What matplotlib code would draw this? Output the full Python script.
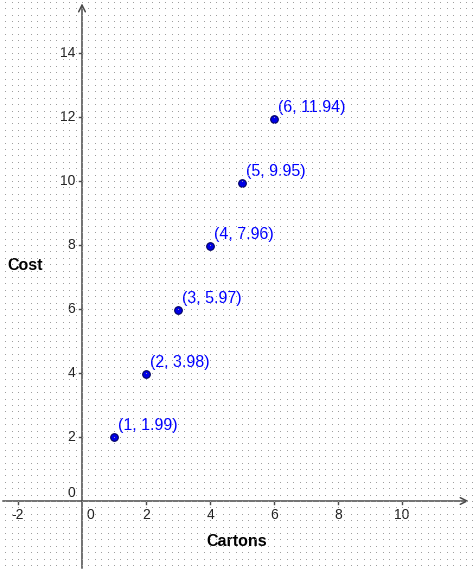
import numpy as np
import matplotlib
matplotlib.use("Agg")
import matplotlib.pyplot as plt

plt.rcParams['font.family'] = ['Liberation Sans', 'DejaVu Sans']

# data
cartons = [1, 2, 3, 4, 5, 6]
cost = [1.99, 3.98, 5.97, 7.96, 9.95, 11.94]
point_labels = ["(1, 1.99)", "(2, 3.98)", "(3, 5.97)", "(4, 7.96)", "(5, 9.95)", "(6, 11.94)"]
x_ticks = [-2, 0, 2, 4, 6, 8, 10]
y_ticks = [0, 2, 4, 6, 8, 10, 12, 14]

W, H = 473, 571
scale = 32.0  # pixels per unit
x0_px, y0_px = 82, 501
xmin, xmax = -x0_px / scale, (W - x0_px) / scale
ymin, ymax = -(H - y0_px) / scale, y0_px / scale

fig = plt.figure(figsize=(W / 100, H / 100), dpi=100)
ax = fig.add_axes([0, 0, 1, 1])
ax.set_xlim(xmin, xmax)
ax.set_ylim(ymin, ymax)
ax.axis("off")

# dotted background grid, one pixel per dot every 0.2 units
grid = np.zeros((H, W, 4))
step = 0.2 * scale
cols = np.round(x0_px + step * np.arange(-int(x0_px / step), int((W - x0_px) / step) + 1)).astype(int)
rows = np.round(y0_px + step * np.arange(-int(y0_px / step), int((H - y0_px) / step) + 1)).astype(int)
cols = cols[(cols >= 0) & (cols < W)]
rows = rows[(rows >= 0) & (rows < H)]
for r in rows:
    grid[H - 1 - r, cols] = [0.62, 0.62, 0.62, 1.0]
fig.figimage(grid, xo=0, yo=0, origin="lower", zorder=0)

axis_col = "#4a4a4a"
# axes with arrows
ax.annotate("", xy=(xmax - 0.05, 0), xytext=(xmin, 0),
            arrowprops=dict(arrowstyle="->", color=axis_col, lw=1.1, mutation_scale=12), zorder=2)
ax.annotate("", xy=(0, ymax - 0.02), xytext=(0, ymin),
            arrowprops=dict(arrowstyle="->", color=axis_col, lw=1.1, mutation_scale=12), zorder=2)

tk = 3 / scale
for t in x_ticks:
    if t != 0:
        ax.plot([t, t], [0, -tk], color=axis_col, lw=1, zorder=2)
    ax.text(t + (0.27 if t == 0 else 0), -7 / scale, str(t), ha="center", va="top",
            fontsize=10, color="#222222", zorder=3)
for t in y_ticks:
    if t != 0:
        ax.plot([0, -tk], [t, t], color=axis_col, lw=1, zorder=2)
    ax.text(-7 / scale, t + (0.25 if t == 0 else 0), str(t), ha="right", va="center",
            fontsize=10, color="#222222", zorder=3)

ax.text(7 / scale + xmin, (y0_px - 266) / scale, "Cost", ha="left", va="center", fontsize=11.5,
        fontweight="bold", color="black")
ax.text((237 - x0_px) / scale, -(542 - y0_px) / scale, "Cartons", ha="center", va="center",
        fontsize=11.5, fontweight="bold", color="black")

ax.scatter(cartons, cost, s=30, c="#0000e6", edgecolors="#000060", linewidths=0.8, zorder=4)
for x, y, lab in zip(cartons, cost, point_labels):
    ax.annotate(lab, (x, y), xytext=(4, 4), textcoords="offset pixels",
                ha="left", va="bottom", fontsize=11.5, color="#0000ff", zorder=5)

fig.savefig("out.png", dpi=100)
